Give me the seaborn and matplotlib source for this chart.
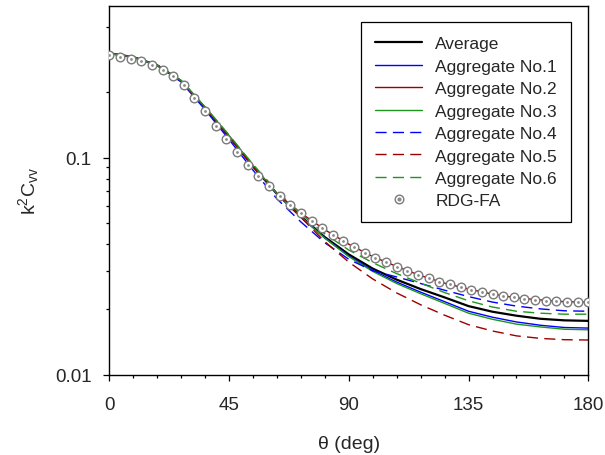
import numpy as np
import pandas as pd
import seaborn as sns
import matplotlib.pyplot as plt
from matplotlib.ticker import FixedLocator, NullFormatter, FixedFormatter

# angle grid of the computed curves (deg)
theta = [0, 9, 18, 27, 36, 45, 54, 63, 72, 81, 90, 99, 108, 117, 126, 135, 144, 153, 162, 171, 180]

average = [0.302, 0.290, 0.266, 0.225, 0.169, 0.125, 0.091, 0.068, 0.0535, 0.0430, 0.0358, 0.0308, 0.0274, 0.0248, 0.0227, 0.0207, 0.0195, 0.0187, 0.0181, 0.0178, 0.0177]
agg1 = [0.302, 0.290, 0.266, 0.225, 0.169, 0.125, 0.091, 0.068, 0.0533, 0.0426, 0.0352, 0.0302, 0.0267, 0.0240, 0.0217, 0.0196, 0.0184, 0.0175, 0.0169, 0.0165, 0.0164]
agg2 = [0.302, 0.290, 0.266, 0.225, 0.169, 0.125, 0.091, 0.0683, 0.0555, 0.0465, 0.0399, 0.0350, 0.0315, 0.0286, 0.0264, 0.0248, 0.0235, 0.0226, 0.0221, 0.0217, 0.0216]
agg3 = [0.302, 0.290, 0.266, 0.226, 0.170, 0.126, 0.092, 0.068, 0.0533, 0.0425, 0.0350, 0.0299, 0.0263, 0.0236, 0.0213, 0.0192, 0.0180, 0.0171, 0.0166, 0.0162, 0.0161]
agg4 = [0.302, 0.290, 0.265, 0.223, 0.166, 0.121, 0.0875, 0.0645, 0.0505, 0.0405, 0.0340, 0.0301, 0.0282, 0.0263, 0.0245, 0.0229, 0.0216, 0.0207, 0.0201, 0.0197, 0.0196]
agg5 = [0.302, 0.290, 0.266, 0.225, 0.169, 0.125, 0.091, 0.068, 0.0530, 0.0410, 0.0330, 0.0276, 0.0238, 0.0210, 0.0188, 0.0170, 0.0159, 0.0151, 0.0147, 0.01450, 0.01445]
agg6 = [0.302, 0.290, 0.266, 0.226, 0.171, 0.127, 0.093, 0.070, 0.0550, 0.0445, 0.0375, 0.0328, 0.0292, 0.0264, 0.0239, 0.0219, 0.0205, 0.0196, 0.0192, 0.0190, 0.0190]

# RDG-FA points, one every 4 deg
rdg_theta = list(range(0, 181, 4))
rdg_fa = [0.295, 0.290, 0.285, 0.277, 0.267, 0.254, 0.237, 0.216, 0.188, 0.163, 0.140, 0.122,
          0.1056, 0.0927, 0.0823, 0.0736, 0.0666, 0.0606, 0.0555, 0.0511, 0.0473, 0.0440,
          0.0412, 0.0386, 0.0365, 0.0346, 0.0330, 0.0315, 0.0301, 0.0289, 0.0278, 0.0268,
          0.0261, 0.0254, 0.0246, 0.0240, 0.0235, 0.0231, 0.0227, 0.0224, 0.0222, 0.0219,
          0.0218, 0.0216, 0.0216, 0.0216]

dash = (0, (8, 4.5))
series = [
    ("Average", average, "black", "-", 1.6),
    ("Aggregate No.1", agg1, "#0000ff", "-", 1.0),
    ("Aggregate No.2", agg2, "#9c0000", "-", 1.0),
    ("Aggregate No.3", agg3, "#1e961e", "-", 1.0),
    ("Aggregate No.4", agg4, "#0000ff", dash, 1.0),
    ("Aggregate No.5", agg5, "#9c0000", dash, 1.0),
    ("Aggregate No.6", agg6, "#1e961e", dash, 1.0),
]

sns.set_theme(style="ticks")
plt.rcParams['font.family'] = ['Liberation Sans', 'DejaVu Sans']
plt.rcParams['mathtext.fontset'] = 'custom'
plt.rcParams['mathtext.rm'] = 'Liberation Sans'
plt.rcParams['mathtext.it'] = 'Liberation Sans'
plt.rcParams['mathtext.default'] = 'regular'

fig = plt.figure(figsize=(6.05, 4.56), dpi=100)
ax = fig.add_axes([0.1807, 0.176, 0.7917, 0.8093])

handles = []
for name, vals, col, ls, lw in series:
    sns.lineplot(x=theta, y=vals, color=col, linestyle=ls, linewidth=lw, ax=ax)
    handles.append(ax.get_lines()[-1])

ring = ax.plot(rdg_theta, rdg_fa, linestyle="none", marker="o", markersize=6.2,
               markerfacecolor="white", markeredgecolor="#7a7a7a", markeredgewidth=1.0, zorder=5)[0]
sns.scatterplot(x=rdg_theta, y=rdg_fa, s=4, color="#8a8a8a", linewidth=0, zorder=6, ax=ax)
dot = ax.plot([], [], linestyle="none", marker="o", markersize=2, color="#8a8a8a")[0]

ax.set_yscale("log")
ax.set_xlim(0, 180)
ax.set_ylim(0.01, 0.5)
ax.set_xticks([0, 45, 90, 135, 180])
ax.xaxis.set_minor_locator(FixedLocator(np.arange(0, 181, 9)))
ax.yaxis.set_major_locator(FixedLocator([0.01, 0.1]))
ax.yaxis.set_major_formatter(FixedFormatter(["0.01", "0.1"]))
ax.yaxis.set_minor_locator(FixedLocator([0.02, 0.03, 0.04, 0.05, 0.06, 0.07, 0.08, 0.09, 0.2, 0.4]))
ax.yaxis.set_minor_formatter(NullFormatter())

for sp in ax.spines.values():
    sp.set_visible(True)
    sp.set_color("black")
    sp.set_linewidth(1.0)
ax.tick_params(which="major", direction="out", length=4.3, width=0.9, labelsize=13.5, color="black")
ax.tick_params(which="minor", direction="out", length=2.5, width=0.9, color="black")
ax.tick_params(axis="y", which="major", pad=8.5)
ax.tick_params(axis="x", which="major", pad=10.7)

ax.set_xlabel("θ (deg)", fontsize=14, labelpad=16.5)
ax.set_ylabel("k$^2$C$_{vv}$", fontsize=14, labelpad=10)

names = [s[0] for s in series] + ["RDG-FA"]
leg = ax.legend(handles + [(ring, dot)], names, loc="upper left",
                bbox_to_anchor=(0.525, 0.955), fontsize=12.5, frameon=True, fancybox=False,
                edgecolor="black", framealpha=1, handlelength=2.75, handletextpad=0.75,
                labelspacing=0.42, borderpad=0.8, borderaxespad=0, numpoints=1)
leg.get_frame().set_linewidth(0.9)

plt.savefig("out.png", dpi=100)
plt.close()
